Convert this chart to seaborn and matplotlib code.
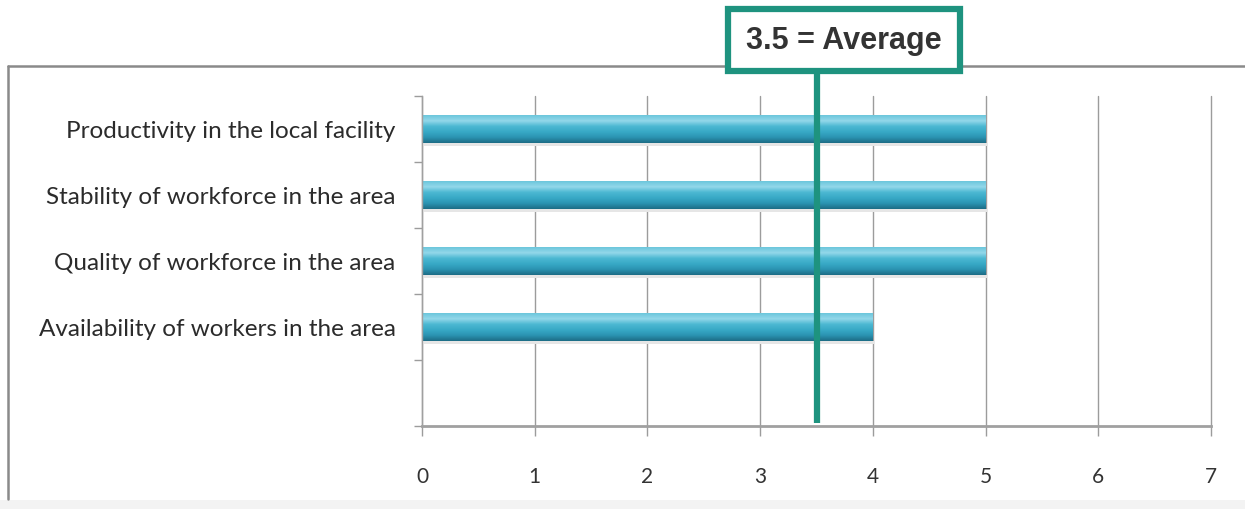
import numpy as np
import pandas as pd
import matplotlib
matplotlib.use("Agg")
import matplotlib.pyplot as plt
import matplotlib.transforms as mtransforms
from matplotlib.patches import Rectangle
from matplotlib.lines import Line2D
from matplotlib.colors import LinearSegmentedColormap
import seaborn as sns

# Survey factors and their ratings
factors = [
    "Productivity in the local facility",
    "Stability of workforce in the area",
    "Quality of workforce in the area",
    "Availability of workers in the area",
]
ratings = [5, 5, 5, 4]
x_ticks = [0, 1, 2, 3, 4, 5, 6, 7]
average_value = 3.5
average_label = "3.5 = Average"

df = pd.DataFrame({"factor": factors, "rating": ratings})

sns.set_theme(style="white")
plt.rcParams["font.family"] = ["Lato", "DejaVu Sans"]

W, H = 1245, 510
fig = plt.figure(figsize=(W / 100, H / 100), dpi=100)
ax = fig.add_axes([422 / W, 83 / H, (1211 - 422) / W, (427 - 97) / H])

sns.barplot(data=df, x="rating", y="factor", orient="h", color="#39a8c5",
            width=0.42, ax=ax, saturation=1, edgecolor="none")

# Glossy vertical gradient on each bar
cmap = LinearSegmentedColormap.from_list(
    "gloss", ["#6cc6dc", "#93d8ea", "#4cb8d2", "#38a9c6", "#2b94b2", "#1d6d86"])
grad = np.linspace(0, 1, 64).reshape(-1, 1)
for p in list(ax.patches):
    x0, y0 = p.get_x(), p.get_y()
    w, h = p.get_width(), p.get_height()
    # soft shadow below the bar
    ax.add_patch(Rectangle((x0 + 0.02, y0 + h), w, 0.04, facecolor="#e6e6e6",
                           edgecolor="none", zorder=1.5))
    im = ax.imshow(grad, aspect="auto", cmap=cmap,
                   extent=(x0, x0 + w, y0 + h, y0), zorder=2)
    im.set_clip_path(p)

ax.set_xlim(0, 7)
ax.set_ylim(4.5, -0.5)
ax.set_xticks(x_ticks)
ax.set_xticklabels([str(t) for t in x_ticks])
ax.set_xlabel("")
ax.set_ylabel("")

ax.grid(axis="x", color="#9c9c9c", linewidth=1.0)
ax.grid(axis="y", visible=False)
ax.set_axisbelow(True)
for gl in ax.get_xgridlines():
    gl.set_clip_on(False)

for s in ["top", "right"]:
    ax.spines[s].set_visible(False)
ax.spines["left"].set_color("#a0a0a0")
ax.spines["left"].set_linewidth(1.0)
ax.spines["bottom"].set_color("#a0a0a0")
ax.spines["bottom"].set_linewidth(2.0)

ax.tick_params(axis="x", direction="out", length=7, width=1, color="#9c9c9c",
               pad=22, labelsize=15, labelcolor="#333333", bottom=True)
ax.tick_params(axis="y", which="major", length=0, pad=19, labelsize=17.5,
               labelcolor="#2b2b2b", left=False)
ax.set_yticks(np.arange(-0.5, 5.0, 1.0), minor=True)
ax.tick_params(axis="y", which="minor", direction="out", length=6, width=1,
               color="#9c9c9c", left=True)

# Average marker line and its label box
avg_tr = mtransforms.blended_transform_factory(ax.transData, ax.transAxes)
ax.add_line(Line2D([average_value, average_value], [0.009, 1.07],
                   transform=avg_tr, color="#1e937f", linewidth=4.5,
                   clip_on=False, zorder=5, solid_capstyle="butt"))

# Outer chart frame
fig.add_artist(Line2D([8 / W, 8 / W], [10 / H, 443 / H], color="#8a8a8a",
                      linewidth=1.8, transform=fig.transFigure))
fig.add_artist(Line2D([8 / W, 1.0], [443 / H, 443 / H], color="#8a8a8a",
                      linewidth=1.8, transform=fig.transFigure))
fig.add_artist(Rectangle((0, 0), 1, 9 / H, transform=fig.transFigure,
                         facecolor="#f3f3f3", edgecolor="none"))

fig.add_artist(Rectangle((728 / W, (H - 72) / H), (960 - 728) / W, 62 / H,
                         transform=fig.transFigure, facecolor="white",
                         edgecolor="#1e937f", linewidth=4.5, zorder=6))
fig.text(844 / W, (H - 41) / H, average_label, ha="center", va="center",
         fontsize=22, fontweight="bold", color="#333333",
         family=["Liberation Sans", "DejaVu Sans"], zorder=7)

fig.savefig("out.png", dpi=100)
